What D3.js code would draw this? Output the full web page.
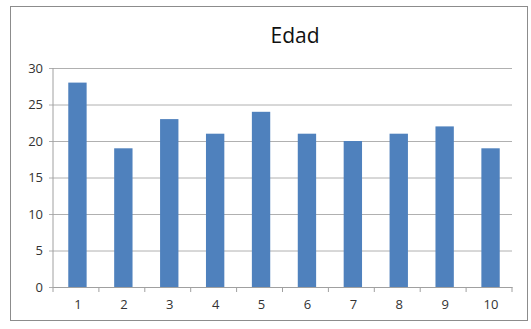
<!DOCTYPE html>
<html lang="es">
<head>
  <meta charset="UTF-8" />
  <title>Edad</title>
  <style>
    body { margin: 0; background: #fff; font-family: "Open Sans", sans-serif; }
    svg { display: block; }
    .tick text { fill: #333; font-size: 13px; font-family: "Open Sans", sans-serif; }
  </style>
</head>
<body>
  <svg width="531" height="329"></svg>
  <script src="https://cdnjs.cloudflare.com/ajax/libs/d3/7.8.5/d3.min.js"></script>
  <script>
    // data
    const categories = ["1", "2", "3", "4", "5", "6", "7", "8", "9", "10"];
    const edad = [28, 19, 23, 21, 24, 21, 20, 21, 22, 19];
    const yTicks = [0, 5, 10, 15, 20, 25, 30];

    const svg = d3.select("svg");
    const margin = { top: 68, right: 19, bottom: 42, left: 53 };
    const width = 531 - margin.left - margin.right;
    const height = 329 - margin.top - margin.bottom;

    // chart border
    svg.append("rect")
      .attr("x", 10.5).attr("y", 6.5)
      .attr("width", 517).attr("height", 314)
      .attr("fill", "#fff")
      .attr("stroke", "#8c8c8c")
      .attr("stroke-width", 1);

    svg.append("text")
      .attr("x", 295).attr("y", 43)
      .attr("text-anchor", "middle")
      .attr("font-size", 21)
      .attr("fill", "#111")
      .text("Edad");

    const g = svg.append("g").attr("transform", `translate(${margin.left},${margin.top})`);

    const x = d3.scaleBand().domain(categories).range([0, width]).paddingInner(0.6).paddingOuter(0.3);
    const y = d3.scaleLinear().domain([0, 30]).range([height, 0]);

    // gridlines + y axis
    const yAxis = g.append("g")
      .call(d3.axisLeft(y).tickValues(yTicks).tickSize(-width).tickPadding(10));
    yAxis.select(".domain").remove();
    yAxis.selectAll(".tick line").attr("stroke", "#b0b0b0").attr("x1", -4);

    g.append("line")
      .attr("x1", 0).attr("x2", 0).attr("y1", 0).attr("y2", height)
      .attr("stroke", "#a0a0a0");

    g.selectAll(".bar")
      .data(edad)
      .join("rect")
      .attr("class", "bar")
      .attr("x", (d, i) => x(categories[i]) + 1.5)
      .attr("y", d => y(d))
      .attr("width", x.bandwidth())
      .attr("height", d => height - y(d))
      .attr("fill", "#4f81bd");

    // x axis with ticks on category boundaries
    const step = width / categories.length;
    const xAxis = g.append("g")
      .attr("transform", `translate(0,${height})`)
      .call(d3.axisBottom(x).tickSize(0).tickPadding(13));
    xAxis.select(".domain").attr("stroke", "#a0a0a0");
    xAxis.selectAll(".tick text").attr("dx", 2);

    g.append("g")
      .attr("transform", `translate(0,${height})`)
      .selectAll("line")
      .data(d3.range(categories.length + 1))
      .join("line")
      .attr("x1", i => i * step).attr("x2", i => i * step)
      .attr("y1", 0).attr("y2", 5)
      .attr("stroke", "#a0a0a0");
  </script>
</body>
</html>
